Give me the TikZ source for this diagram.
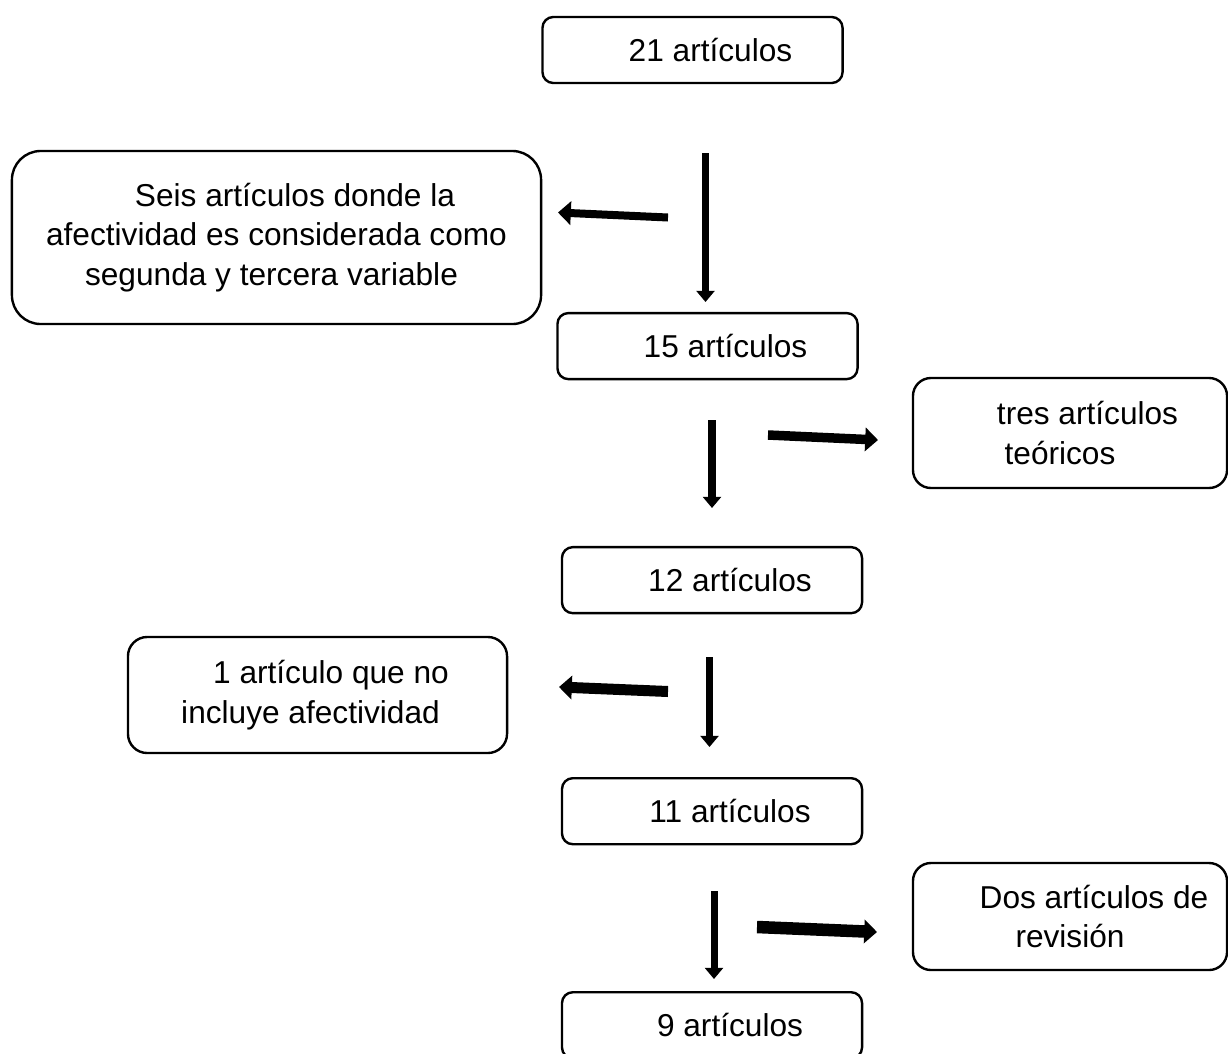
\documentclass[tikz,border=0pt]{standalone}
\usepackage{fontspec}
\setmainfont{Liberation Sans}
\usepackage{tikz}
\usetikzlibrary{arrows.meta}
\tikzstyle{count} = [rectangle, rounded corners=0.27cm, minimum width=7.5cm, minimum height=1.65cm, text height=0.6cm, text depth=0.05cm, text centered, draw=black, line width=0.06cm, font=\fontsize{22.5pt}{28pt}\selectfont]
\tikzstyle{removed} = [rectangle, align=center, draw=black, line width=0.06cm, font=\fontsize{22.5pt}{28pt}\selectfont]
\tikzstyle{arrow} = [line width=0.18cm, -{Triangle[length=0.28cm, width=0.45cm]}]
\tikzstyle{sidearrow} = [line width=0.3cm, -{Triangle[length=0.32cm, width=0.58cm]}]
\newcommand{\lpad}{\hspace*{0.9cm}}

\begin{document}
\begin{tikzpicture}[x=0.025cm, y=-0.025cm, node distance=5.8cm]
\useasboundingbox (0,0) rectangle (1228,1053);

\node (n21) [count] at (692.5,50) {\lpad 21 artículos};
\node (n15) [count, below of=n21, xshift=0.375cm, yshift=-1.6cm] {\lpad 15 artículos};
\node (n12) [count, below of=n15, xshift=0.1125cm, yshift=-0.05cm] {\lpad 12 artículos};
\node (n11) [count, below of=n12, yshift=0.025cm] {\lpad 11 artículos};
\node (n9) [count, below of=n11, yshift=0.45cm] {\lpad 9 artículos};

\node (seis) [removed, minimum width=13.225cm, minimum height=4.325cm, rounded corners=0.72cm] at (276.5,237.5) {\hspace*{0.925cm}Seis artículos donde la\\afectividad es considerada como\\segunda y tercera variable\hspace*{0.25cm}};
\node (tres) [removed, minimum width=7.85cm, minimum height=2.75cm, rounded corners=0.45cm] at (1070,433) {\hspace*{0.875cm}tres artículos\\teóricos\hspace*{0.5cm}};
\node (uno) [removed, minimum width=9.475cm, minimum height=2.9cm, rounded corners=0.48cm] at (317.5,695) {\hspace*{0.675cm}1 artículo que no\\incluye afectividad\hspace*{0.35cm}};
\node (dos) [removed, minimum width=7.85cm, minimum height=2.675cm, rounded corners=0.45cm] at (1070,916.5) {\hspace*{1.2cm}Dos artículos de\\revisión};

\coordinate (a1s) at (705.5,153);
\coordinate (a1e) at (705.5,302);
\coordinate (a2s) at (668,217.5);
\coordinate (a2e) at (558,212.5);
\coordinate (a3s) at (712,420);
\coordinate (a3e) at (712,508);
\coordinate (a4s) at (768,435);
\coordinate (a4e) at (878,440);
\coordinate (a5s) at (709.5,657);
\coordinate (a5e) at (709.5,747);
\coordinate (a6s) at (668,691.5);
\coordinate (a6e) at (559,687);
\coordinate (a7s) at (714,891);
\coordinate (a7e) at (714,979);
\coordinate (a8s) at (757,927);
\coordinate (a8e) at (877,932);

\draw [arrow, line width=0.1875cm] (a1s) -- (a1e);
\draw [sidearrow, line width=0.2cm] (a2s) -- (a2e);
\draw [arrow] (a3s) -- (a3e);
\draw [sidearrow, line width=0.2375cm] (a4s) -- (a4e);
\draw [arrow, line width=0.175cm] (a5s) -- (a5e);
\draw [sidearrow, line width=0.275cm] (a6s) -- (a6e);
\draw [arrow, line width=0.175cm] (a7s) -- (a7e);
\draw [sidearrow, line width=0.3125cm] (a8s) -- (a8e);
\end{tikzpicture}
\end{document}
